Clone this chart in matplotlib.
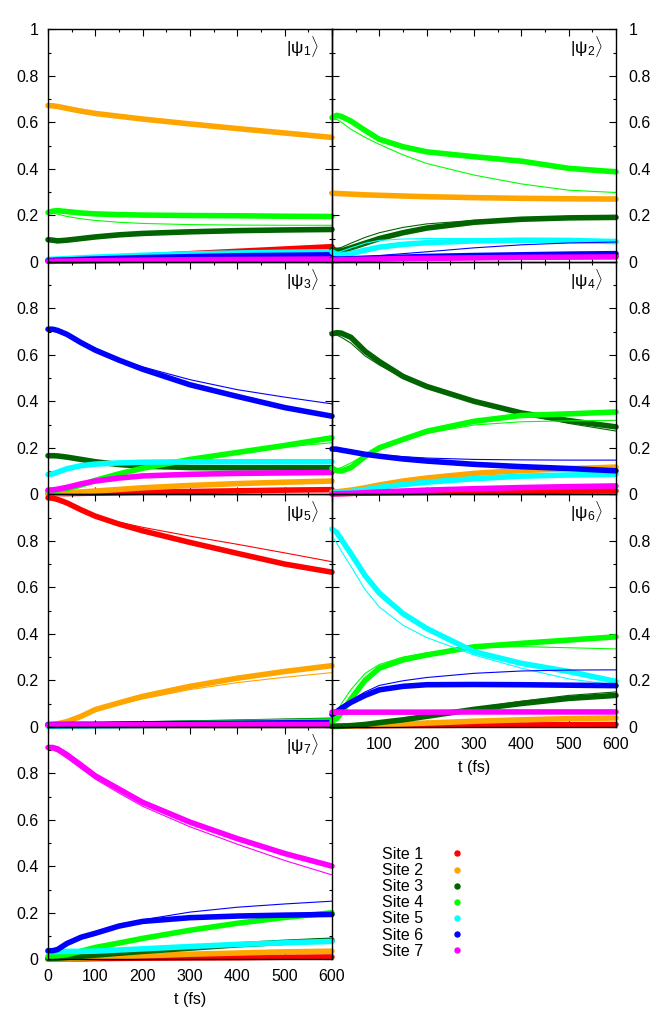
#!/usr/bin/env python3

import numpy as np
import matplotlib
matplotlib.use('Agg')
import matplotlib.pyplot as plt
from matplotlib.lines import Line2D
from matplotlib.ticker import MultipleLocator

T_FS = [0, 10, 20, 40, 70, 100, 150, 200, 300, 400, 500, 600]

SITES = ['Site 1', 'Site 2', 'Site 3', 'Site 4', 'Site 5', 'Site 6', 'Site 7']
COLORS = ['#ff0000', '#ffa500', '#006400', '#00ff00', '#00ffff', '#0000ff', '#ff00ff']

PANEL_LABELS = [r'$|\mathrm{\psi}_%d\rangle$' % i for i in range(1, 8)]

# one row per site: populations from the dotted (thick) series
PSI1_DOTS = [
	[0.005, 0.006, 0.007, 0.009, 0.012, 0.015, 0.020, 0.025, 0.035, 0.045, 0.055, 0.065],
	[0.672, 0.671, 0.668, 0.660, 0.648, 0.638, 0.626, 0.614, 0.593, 0.573, 0.554, 0.535],
	[0.095, 0.093, 0.090, 0.093, 0.100, 0.107, 0.116, 0.122, 0.129, 0.134, 0.137, 0.139],
	[0.212, 0.218, 0.220, 0.216, 0.210, 0.206, 0.203, 0.201, 0.199, 0.198, 0.196, 0.195],
	[0.010, 0.011, 0.012, 0.014, 0.017, 0.020, 0.024, 0.028, 0.034, 0.038, 0.041, 0.043],
	[0.005, 0.006, 0.007, 0.008, 0.010, 0.012, 0.015, 0.018, 0.022, 0.026, 0.028, 0.030],
	[0.002, 0.002, 0.003, 0.003, 0.004, 0.005, 0.006, 0.007, 0.009, 0.010, 0.011, 0.012],
]
# thin line series (model)
PSI1_LINE = [
	[0.005, 0.006, 0.008, 0.010, 0.014, 0.017, 0.023, 0.029, 0.040, 0.050, 0.060, 0.070],
	[0.670, 0.669, 0.665, 0.657, 0.645, 0.635, 0.623, 0.611, 0.590, 0.570, 0.551, 0.532],
	[0.095, 0.095, 0.096, 0.100, 0.106, 0.112, 0.119, 0.124, 0.131, 0.135, 0.138, 0.140],
	[0.212, 0.210, 0.205, 0.195, 0.185, 0.178, 0.170, 0.165, 0.160, 0.158, 0.157, 0.157],
	[0.010, 0.011, 0.012, 0.015, 0.018, 0.021, 0.025, 0.029, 0.035, 0.039, 0.042, 0.045],
	[0.005, 0.006, 0.007, 0.008, 0.010, 0.012, 0.015, 0.018, 0.022, 0.026, 0.028, 0.030],
	[0.002, 0.002, 0.003, 0.003, 0.004, 0.005, 0.006, 0.007, 0.009, 0.010, 0.011, 0.012],
]

PSI2_DOTS = [
	[0.012, 0.012, 0.012, 0.013, 0.014, 0.015, 0.016, 0.017, 0.019, 0.021, 0.023, 0.025],
	[0.295, 0.294, 0.293, 0.291, 0.288, 0.286, 0.283, 0.280, 0.276, 0.273, 0.271, 0.270],
	[0.055, 0.048, 0.047, 0.060, 0.080, 0.100, 0.125, 0.145, 0.170, 0.183, 0.189, 0.191],
	[0.620, 0.630, 0.625, 0.605, 0.565, 0.527, 0.495, 0.473, 0.452, 0.433, 0.402, 0.387],
	[0.043, 0.032, 0.029, 0.035, 0.050, 0.063, 0.075, 0.082, 0.090, 0.093, 0.092, 0.087],
	[0.012, 0.012, 0.012, 0.013, 0.015, 0.017, 0.020, 0.023, 0.027, 0.030, 0.033, 0.035],
	[0.008, 0.008, 0.009, 0.010, 0.011, 0.012, 0.014, 0.015, 0.017, 0.019, 0.020, 0.021],
]
PSI2_LINE = [
	[0.012, 0.012, 0.012, 0.013, 0.014, 0.015, 0.016, 0.017, 0.019, 0.021, 0.023, 0.025],
	[0.293, 0.292, 0.291, 0.289, 0.286, 0.284, 0.281, 0.278, 0.274, 0.271, 0.269, 0.268],
	[0.060, 0.058, 0.062, 0.080, 0.105, 0.125, 0.148, 0.163, 0.178, 0.186, 0.190, 0.192],
	[0.612, 0.613, 0.600, 0.570, 0.535, 0.505, 0.460, 0.423, 0.373, 0.335, 0.308, 0.298],
	[0.043, 0.040, 0.045, 0.060, 0.080, 0.092, 0.098, 0.100, 0.100, 0.098, 0.095, 0.090],
	[0.012, 0.013, 0.015, 0.018, 0.022, 0.027, 0.035, 0.043, 0.060, 0.073, 0.081, 0.085],
	[0.008, 0.008, 0.009, 0.010, 0.011, 0.012, 0.014, 0.015, 0.017, 0.019, 0.020, 0.021],
]

PSI3_DOTS = [
	[0.002, 0.002, 0.003, 0.003, 0.004, 0.005, 0.007, 0.009, 0.012, 0.015, 0.018, 0.020],
	[0.002, 0.003, 0.004, 0.006, 0.010, 0.014, 0.021, 0.028, 0.038, 0.046, 0.052, 0.057],
	[0.166, 0.166, 0.165, 0.160, 0.150, 0.140, 0.128, 0.121, 0.115, 0.114, 0.114, 0.114],
	[0.015, 0.016, 0.018, 0.024, 0.040, 0.060, 0.088, 0.112, 0.150, 0.180, 0.210, 0.243],
	[0.085, 0.088, 0.095, 0.110, 0.123, 0.130, 0.135, 0.138, 0.140, 0.140, 0.140, 0.140],
	[0.710, 0.710, 0.705, 0.688, 0.652, 0.620, 0.577, 0.538, 0.471, 0.421, 0.373, 0.336],
	[0.018, 0.019, 0.022, 0.030, 0.045, 0.057, 0.070, 0.079, 0.086, 0.090, 0.092, 0.094],
]
PSI3_LINE = [
	[0.002, 0.002, 0.003, 0.003, 0.004, 0.005, 0.007, 0.009, 0.012, 0.015, 0.018, 0.020],
	[0.002, 0.003, 0.004, 0.006, 0.010, 0.014, 0.021, 0.028, 0.038, 0.046, 0.052, 0.057],
	[0.166, 0.165, 0.162, 0.155, 0.145, 0.137, 0.127, 0.121, 0.116, 0.115, 0.115, 0.115],
	[0.015, 0.017, 0.020, 0.028, 0.045, 0.062, 0.090, 0.113, 0.150, 0.178, 0.203, 0.222],
	[0.085, 0.090, 0.098, 0.112, 0.124, 0.130, 0.135, 0.137, 0.138, 0.138, 0.137, 0.137],
	[0.710, 0.708, 0.700, 0.683, 0.650, 0.620, 0.580, 0.548, 0.493, 0.450, 0.418, 0.389],
	[0.018, 0.019, 0.022, 0.030, 0.045, 0.057, 0.070, 0.079, 0.086, 0.090, 0.092, 0.094],
]

PSI4_DOTS = [
	[0.003, 0.003, 0.003, 0.004, 0.005, 0.006, 0.007, 0.008, 0.010, 0.012, 0.014, 0.015],
	[0.010, 0.011, 0.013, 0.018, 0.028, 0.040, 0.057, 0.070, 0.090, 0.102, 0.110, 0.117],
	[0.690, 0.695, 0.693, 0.675, 0.615, 0.571, 0.507, 0.464, 0.400, 0.350, 0.317, 0.290],
	[0.112, 0.102, 0.100, 0.115, 0.163, 0.200, 0.236, 0.271, 0.314, 0.339, 0.346, 0.354],
	[0.005, 0.006, 0.008, 0.012, 0.020, 0.030, 0.042, 0.052, 0.067, 0.078, 0.083, 0.086],
	[0.195, 0.194, 0.190, 0.183, 0.172, 0.164, 0.152, 0.143, 0.129, 0.119, 0.111, 0.101],
	[0.001, 0.002, 0.003, 0.004, 0.007, 0.010, 0.014, 0.018, 0.024, 0.029, 0.033, 0.036],
]
PSI4_LINE = [
	[0.003, 0.003, 0.003, 0.004, 0.005, 0.006, 0.007, 0.008, 0.010, 0.012, 0.014, 0.015],
	[0.010, 0.011, 0.013, 0.018, 0.028, 0.040, 0.057, 0.071, 0.091, 0.104, 0.113, 0.120],
	[0.685, 0.685, 0.675, 0.650, 0.595, 0.556, 0.500, 0.460, 0.398, 0.345, 0.305, 0.272],
	[0.112, 0.110, 0.115, 0.135, 0.170, 0.200, 0.235, 0.262, 0.298, 0.312, 0.316, 0.318],
	[0.005, 0.006, 0.008, 0.012, 0.020, 0.030, 0.042, 0.052, 0.067, 0.078, 0.083, 0.086],
	[0.193, 0.192, 0.190, 0.185, 0.177, 0.170, 0.162, 0.156, 0.150, 0.148, 0.147, 0.147],
	[0.001, 0.002, 0.003, 0.004, 0.007, 0.010, 0.014, 0.018, 0.024, 0.029, 0.033, 0.036],
]

PSI5_DOTS = [
	[0.985, 0.983, 0.978, 0.963, 0.933, 0.906, 0.872, 0.843, 0.793, 0.746, 0.700, 0.665],
	[0.008, 0.010, 0.013, 0.022, 0.045, 0.074, 0.103, 0.131, 0.174, 0.209, 0.238, 0.263],
	[0.005, 0.005, 0.005, 0.006, 0.007, 0.008, 0.010, 0.012, 0.016, 0.020, 0.024, 0.028],
	[0.005, 0.005, 0.005, 0.006, 0.007, 0.008, 0.010, 0.012, 0.015, 0.018, 0.022, 0.025],
	[0.002, 0.002, 0.002, 0.003, 0.003, 0.004, 0.005, 0.006, 0.007, 0.008, 0.009, 0.010],
	[0.010, 0.010, 0.010, 0.010, 0.011, 0.011, 0.012, 0.013, 0.014, 0.015, 0.017, 0.018],
	[0.008, 0.008, 0.008, 0.008, 0.008, 0.008, 0.009, 0.009, 0.009, 0.010, 0.010, 0.010],
]
PSI5_LINE = [
	[0.985, 0.983, 0.978, 0.963, 0.935, 0.909, 0.880, 0.858, 0.820, 0.785, 0.748, 0.710],
	[0.008, 0.010, 0.013, 0.022, 0.045, 0.070, 0.097, 0.120, 0.160, 0.190, 0.213, 0.233],
	[0.005, 0.005, 0.005, 0.006, 0.007, 0.008, 0.010, 0.012, 0.016, 0.020, 0.024, 0.028],
	[0.005, 0.005, 0.005, 0.006, 0.007, 0.008, 0.010, 0.012, 0.015, 0.018, 0.022, 0.025],
	[0.002, 0.002, 0.002, 0.003, 0.003, 0.004, 0.005, 0.006, 0.007, 0.008, 0.009, 0.010],
	[0.010, 0.010, 0.010, 0.010, 0.011, 0.011, 0.012, 0.013, 0.014, 0.015, 0.017, 0.018],
	[0.008, 0.008, 0.008, 0.008, 0.008, 0.008, 0.009, 0.009, 0.009, 0.010, 0.010, 0.010],
]

PSI6_DOTS = [
	[0.003, 0.003, 0.003, 0.004, 0.004, 0.005, 0.006, 0.006, 0.007, 0.008, 0.009, 0.010],
	[0.002, 0.002, 0.003, 0.004, 0.006, 0.008, 0.012, 0.016, 0.024, 0.030, 0.035, 0.038],
	[0.002, 0.002, 0.003, 0.005, 0.010, 0.018, 0.030, 0.045, 0.075, 0.100, 0.122, 0.135],
	[0.024, 0.035, 0.060, 0.120, 0.200, 0.252, 0.288, 0.309, 0.344, 0.359, 0.373, 0.387],
	[0.850, 0.836, 0.805, 0.745, 0.650, 0.575, 0.487, 0.423, 0.323, 0.273, 0.238, 0.195],
	[0.053, 0.065, 0.080, 0.105, 0.135, 0.159, 0.174, 0.181, 0.182, 0.181, 0.179, 0.177],
	[0.063, 0.063, 0.063, 0.063, 0.063, 0.063, 0.063, 0.063, 0.064, 0.064, 0.064, 0.064],
]
PSI6_LINE = [
	[0.003, 0.003, 0.003, 0.004, 0.004, 0.005, 0.006, 0.006, 0.007, 0.008, 0.009, 0.010],
	[0.002, 0.002, 0.003, 0.004, 0.006, 0.008, 0.012, 0.016, 0.024, 0.030, 0.035, 0.038],
	[0.002, 0.002, 0.003, 0.006, 0.012, 0.020, 0.033, 0.048, 0.080, 0.110, 0.135, 0.150],
	[0.024, 0.060, 0.100, 0.160, 0.230, 0.268, 0.300, 0.318, 0.340, 0.345, 0.340, 0.335],
	[0.820, 0.790, 0.755, 0.690, 0.590, 0.515, 0.437, 0.384, 0.309, 0.252, 0.206, 0.180],
	[0.053, 0.070, 0.088, 0.115, 0.150, 0.178, 0.198, 0.212, 0.230, 0.240, 0.244, 0.245],
	[0.063, 0.063, 0.063, 0.063, 0.063, 0.063, 0.063, 0.063, 0.064, 0.064, 0.064, 0.064],
]

PSI7_DOTS = [
	[0.001, 0.001, 0.001, 0.002, 0.002, 0.003, 0.004, 0.005, 0.006, 0.007, 0.009, 0.010],
	[0.001, 0.002, 0.002, 0.003, 0.005, 0.007, 0.011, 0.015, 0.022, 0.027, 0.032, 0.035],
	[0.003, 0.004, 0.005, 0.008, 0.013, 0.018, 0.026, 0.034, 0.048, 0.062, 0.073, 0.082],
	[0.012, 0.013, 0.015, 0.020, 0.035, 0.051, 0.070, 0.090, 0.125, 0.155, 0.180, 0.200],
	[0.033, 0.033, 0.033, 0.034, 0.034, 0.035, 0.040, 0.045, 0.055, 0.064, 0.071, 0.077],
	[0.037, 0.037, 0.042, 0.068, 0.095, 0.112, 0.143, 0.163, 0.179, 0.186, 0.190, 0.193],
	[0.911, 0.911, 0.905, 0.880, 0.835, 0.789, 0.732, 0.675, 0.590, 0.519, 0.455, 0.401],
]
PSI7_LINE = [
	[0.001, 0.001, 0.001, 0.002, 0.002, 0.003, 0.004, 0.005, 0.006, 0.007, 0.009, 0.010],
	[0.001, 0.002, 0.002, 0.003, 0.005, 0.007, 0.011, 0.015, 0.022, 0.027, 0.032, 0.035],
	[0.003, 0.004, 0.005, 0.008, 0.014, 0.020, 0.029, 0.038, 0.054, 0.068, 0.080, 0.090],
	[0.012, 0.014, 0.018, 0.025, 0.040, 0.055, 0.075, 0.094, 0.128, 0.158, 0.182, 0.200],
	[0.030, 0.030, 0.031, 0.032, 0.033, 0.034, 0.038, 0.043, 0.052, 0.060, 0.066, 0.071],
	[0.035, 0.038, 0.045, 0.068, 0.095, 0.117, 0.148, 0.170, 0.203, 0.224, 0.238, 0.250],
	[0.905, 0.900, 0.892, 0.865, 0.820, 0.775, 0.715, 0.658, 0.570, 0.495, 0.425, 0.363],
]

PANELS_DOTS = [PSI1_DOTS, PSI2_DOTS, PSI3_DOTS, PSI4_DOTS, PSI5_DOTS, PSI6_DOTS, PSI7_DOTS]
PANELS_LINE = [PSI1_LINE, PSI2_LINE, PSI3_LINE, PSI4_LINE, PSI5_LINE, PSI6_LINE, PSI7_LINE]


def setup_axes(ax, col, row, xlabels):
	"""
	gnuplot-like frame: inward ticks on every side, labels on the outer side
	"""
	ax.set_xlim(0, 600)
	ax.set_ylim(0, 1)
	ax.set_facecolor('none')
	ax.xaxis.set_major_locator(MultipleLocator(100))
	ax.xaxis.set_minor_locator(MultipleLocator(50))
	ax.set_yticks([0, 0.2, 0.4, 0.6, 0.8, 1.0])
	ax.yaxis.set_minor_locator(MultipleLocator(0.1))
	ylab = ['0', '0.2', '0.4', '0.6', '0.8', '1' if row == 0 else '']
	ax.set_yticklabels(ylab)
	ax.tick_params(which='both', direction='in', top=True, bottom=True,
				   left=True, right=True, width=0.8)
	ax.tick_params(which='major', length=5)
	ax.tick_params(which='minor', length=2.5)
	ax.tick_params(axis='y', pad=(7 if col == 0 else 9),
				   labelleft=(col == 0), labelright=(col == 1))
	ax.tick_params(axis='x', pad=7, labelbottom=xlabels is not None)
	if xlabels is not None:
		ax.set_xticks([0, 100, 200, 300, 400, 500, 600])
		ax.set_xticklabels(xlabels)
		ax.set_xlabel('t (fs)', labelpad=6)
	for sp in ax.spines.values():
		sp.set_linewidth(1.0)


def plot_panel(ax, dots, line, label):
	"""
	thick band for the dotted data, thin line for the model curve
	"""
	for idx in range(len(SITES)):
		ax.plot(T_FS, dots[idx], color=COLORS[idx], lw=4.0,
				solid_capstyle='round', solid_joinstyle='round', clip_on=False)
		ax.plot(T_FS, line[idx], color=COLORS[idx], lw=0.8)
	ax.text(572, 0.925, label, ha='right', va='center', fontsize=12.5)


def do_main_function():
	plt.rcParams['font.family'] = ['Liberation Sans', 'DejaVu Sans']
	plt.rcParams['font.size'] = 11.5
	plt.rcParams['mathtext.fontset'] = 'custom'
	plt.rcParams['mathtext.rm'] = 'Liberation Sans'
	plt.rcParams['mathtext.it'] = 'Liberation Sans:italic'

	W, H = 664.0, 1017.0
	fig = plt.figure(figsize=(W / 100, H / 100), dpi=100)

	x0 = [48.0, 332.0]
	aw = 284.0
	top = 29.3
	ah = 232.5

	full = ['0', '100', '200', '300', '400', '500', '600']
	for p in range(7):
		row, col = p // 2, p % 2
		rect = [x0[col] / W, 1 - (top + (row + 1) * ah) / H, aw / W, ah / H]
		ax = fig.add_axes(rect)
		if p == 6:
			xl = full
		elif p == 5:
			xl = [''] + full[1:]
		else:
			xl = None
		setup_axes(ax, col, row, xl)
		plot_panel(ax, PANELS_DOTS[p], PANELS_LINE[p], PANEL_LABELS[p])

	handles = [Line2D([], [], ls='none', marker='o', ms=3.6, color=c) for c in COLORS]
	fig.legend(handles, SITES, loc='upper left', bbox_to_anchor=(382 / W, 1 - 847 / H),
			   frameon=False, markerfirst=False, handlelength=2, handletextpad=1.1,
			   labelspacing=0.07, borderpad=0, borderaxespad=0, fontsize=11.5)

	fig.savefig('out.png', dpi=100)


if __name__ == '__main__':
	do_main_function()
